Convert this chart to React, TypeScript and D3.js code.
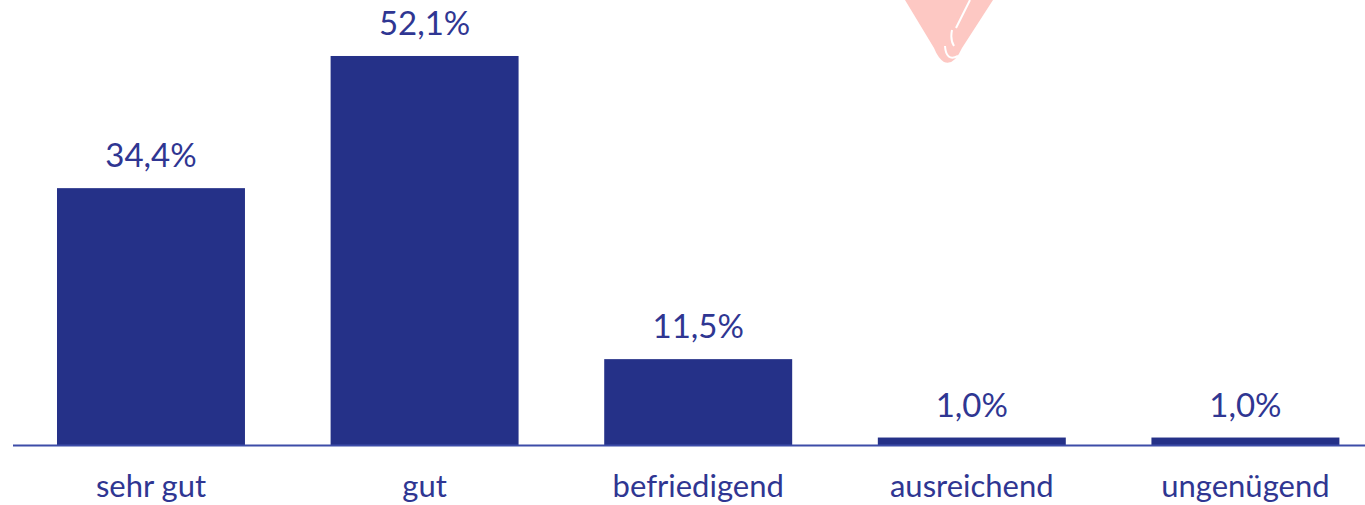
import * as d3 from "d3"

const categories = ["sehr gut", "gut", "befriedigend", "ausreichend", "ungenügend"]
const values = [34.4, 52.1, 11.5, 1.0, 1.0]
const valueLabels = ["34,4%", "52,1%", "11,5%", "1,0%", "1,0%"]

const width = 1365
const height = 505
const baseline = 445

export default function App() {
    const x = d3.scaleBand<string>().domain(categories).range([13, 1383.4]).paddingInner(0.313).paddingOuter(0.1608)
    const y = d3.scaleLinear().domain([0, 60]).range([baseline, -3])
    const font = "Lato, 'Open Sans', sans-serif"
    const textColor = "#2f3692"

    return (
        <svg width={width} height={height} style={{ position: "absolute", left: 0, top: 0 }}>
            <rect width={width} height={height} fill="white" />
            {/* faint logo fragment at the top */}
            <path d="M905,0 L993,0 L962,48 Q954,66 944,62 Q938,58 934,48 Z" fill="#fdc8c3" />
            <path d="M970,0 L956,28 M952,30 Q950,40 954,46 M945,46 Q946,62 958,56" stroke="white" strokeWidth={2} fill="none" />
            {categories.map((c, i) => (
                <g key={c}>
                    <rect x={x(c)} y={y(values[i])} width={x.bandwidth()} height={baseline - y(values[i])} fill="#253188" />
                    <text x={(x(c) ?? 0) + x.bandwidth() / 2} y={y(values[i]) - 21} textAnchor="middle"
                        fontFamily={font} fontSize={33} fill={textColor}>{valueLabels[i]}</text>
                    <text x={(x(c) ?? 0) + x.bandwidth() / 2} y={497} textAnchor="middle"
                        fontFamily={font} fontSize={31} fill={textColor}>{c}</text>
                </g>
            ))}
            <line x1={13} x2={width} y1={baseline + 0.5} y2={baseline + 0.5} stroke="#3d4ca8" strokeWidth={2} />
        </svg>
    )
}
